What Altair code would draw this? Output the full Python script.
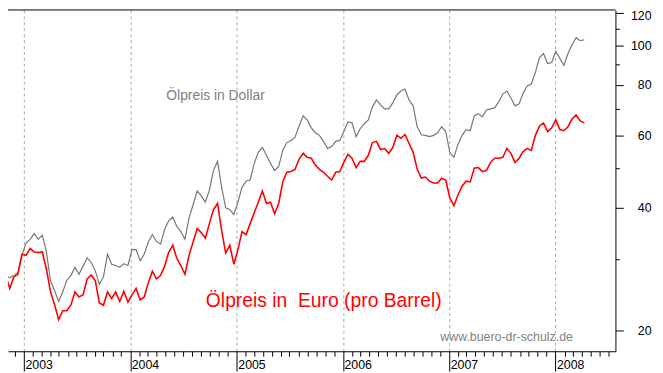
import altair as alt
import pandas as pd

# --- data (fortnightly samples) ---
n_points = 144
dates = pd.date_range("2002-10-16", periods=n_points, freq="14D").strftime("%Y-%m-%d").tolist()

dollar = [30.2, 27.1, 27.0, 27.3, 27.8, 30.6, 32.8, 33.5, 34.6, 33.5,
          34.3, 31.2, 26.5, 25.1, 23.6, 24.9, 26.6, 27.3, 28.6, 27.5,
          28.8, 30.2, 29.4, 28.0, 26.0, 27.1, 30.8, 29.1, 28.9, 28.6,
          29.2, 28.9, 31.6, 31.6, 29.7, 30.8, 33.0, 34.4, 33.1, 32.6,
          35.4, 37.2, 38.0, 36.0, 35.0, 33.5, 37.8, 40.7, 44.0, 42.8,
          41.3, 44.2, 49.4, 52.0, 44.9, 40.0, 39.6, 38.5, 41.3, 44.9,
          46.5, 46.8, 51.4, 54.7, 56.2, 53.8, 51.4, 49.4, 50.5, 55.3,
          57.8, 58.5, 59.5, 63.5, 67.2, 65.7, 62.8, 61.1, 60.2, 58.2,
          55.9, 56.5, 58.2, 58.5, 61.5, 64.9, 64.6, 59.8, 62.5, 64.2,
          65.7, 70.7, 73.5, 71.5, 69.9, 69.9, 72.3, 75.6, 77.3, 78.2,
          73.5, 71.1, 63.2, 60.4, 60.2, 59.8, 60.2, 61.1, 63.2, 61.5,
          54.7, 53.2, 57.2, 60.2, 62.2, 61.8, 67.2, 68.0, 66.8, 69.5,
          69.9, 70.3, 72.7, 76.0, 77.3, 74.3, 71.1, 71.9, 76.4, 79.5,
          80.4, 85.9, 93.4, 95.5, 90.3, 90.8, 96.6, 92.9, 89.3, 95.5,
          100.4, 104.4, 102.7, 103.2]

euro = [30.2, 27.3, 25.4, 27.1, 27.5, 30.8, 30.6, 31.8, 31.2, 31.1,
        31.2, 28.3, 24.9, 23.2, 21.3, 22.4, 22.4, 23.1, 24.9, 24.2,
        24.5, 26.8, 27.4, 26.5, 23.4, 23.1, 24.9, 24.0, 24.9, 23.6,
        25.0, 23.5, 24.5, 25.4, 23.8, 24.2, 26.2, 28.0, 26.8, 27.3,
        28.8, 31.1, 32.4, 30.1, 28.9, 27.5, 30.6, 33.0, 35.6, 34.8,
        33.7, 36.6, 39.6, 41.0, 35.2, 31.0, 32.4, 29.1, 31.6, 35.0,
        34.4, 36.6, 38.9, 41.3, 44.0, 41.0, 41.3, 38.7, 41.0, 46.3,
        48.9, 49.1, 49.7, 52.6, 54.4, 53.2, 52.9, 50.9, 49.7, 48.9,
        47.8, 46.8, 48.9, 49.1, 51.7, 54.1, 52.9, 50.2, 52.0, 52.0,
        53.8, 57.8, 58.2, 55.6, 55.9, 54.4, 56.2, 60.2, 59.2, 60.5,
        57.5, 54.7, 49.7, 47.3, 47.6, 46.5, 46.0, 46.0, 47.3, 46.8,
        42.3, 40.5, 43.0, 45.2, 46.5, 46.3, 50.0, 50.2, 49.1, 49.4,
        51.7, 52.9, 52.9, 53.2, 55.9, 54.4, 51.7, 52.9, 55.0, 55.9,
        55.3, 60.2, 63.5, 64.6, 61.5, 62.8, 65.7, 62.2, 61.8, 63.2,
        66.0, 67.5, 65.3, 64.6]

y_ticks = [20, 30, 40, 50, 60, 70, 80, 90, 100, 110, 120]
month_ticks = [(2002, 12)] + [(y, m) for y in range(2003, 2008) for m in range(1, 13)] + \
              [(2008, m) for m in range(1, 8)]

label_dollar = ["Ölpreis in Dollar"]
label_euro = ["Ölpreis in\u00a0 Euro (pro Barrel)"]
label_url = ["www.buero-dr-schulz.de"]

df_dollar = pd.DataFrame({"date": dates, "price": dollar})
df_euro = pd.DataFrame({"date": dates, "price": euro})

FONT = "Liberation Sans"
is_jan = "utcmonth(datum.value) == 0"

x_enc = alt.X(
    "date:T",
    scale=alt.Scale(type="utc", domain=[alt.DateTime(year=2002, month=11, date=7, utc=True),
                                        alt.DateTime(year=2008, month=7, date=25, utc=True)]),
    axis=alt.Axis(
        values=[alt.DateTime(year=y, month=m, date=1, utc=True) for y, m in month_ticks],
        title=None,
        grid=True,
        gridDash=[3, 3],
        gridColor="#a8a8a8",
        gridOpacity={"condition": {"test": is_jan, "value": 1}, "value": 0},
        tickSize={"condition": {"test": is_jan, "value": 20}, "value": 5},
        tickColor="black",
        domainColor="black",
        labelExpr=f"{is_jan} ? utcFormat(datum.value, '%Y') : ''",
        labelAlign="left",
        labelBaseline="top",
        labelOffset=1,
        labelPadding=-13,
        labelFont=FONT,
        labelFontSize=12.5,
        labelColor="black",
        labelOverlap=False,
        labelFlush=False,
        labelBound=False,
    ),
)

y_enc = alt.Y(
    "price:Q",
    scale=alt.Scale(type="log", domain=[17.82, 122.1]),
    axis=alt.Axis(
        orient="right",
        values=y_ticks,
        title=None,
        grid=False,
        tickSize={"condition": {"test": "datum.value % 20 == 0", "value": 8}, "value": 4},
        tickColor="black",
        domainColor="black",
        labelExpr="datum.value % 20 == 0 ? datum.value : ''",
        labelAlign="right",
        labelBaseline="middle",
        labelOffset={"condition": {"test": "datum.value == 120", "value": 2.5}, "value": 0},
        labelPadding=28,
        labelFont=FONT,
        labelFontSize=12.5,
        labelColor="black",
        labelOverlap=False,
        labelFlush=False,
        labelBound=False,
    ),
)

dollar_line = alt.Chart(df_dollar).mark_line(color="#767676", strokeWidth=1.2, clip=True).encode(x=x_enc, y=y_enc)
euro_line = alt.Chart(df_euro).mark_line(color="#ff0000", strokeWidth=1.6, clip=True).encode(x=x_enc, y=y_enc)

top_rule = alt.Chart(pd.DataFrame({"k": [0]})).mark_rule(color="black", strokeWidth=1).encode(y=alt.value(0))

t_dollar = alt.Chart(pd.DataFrame({"t": label_dollar})).mark_text(
    align="left", baseline="alphabetic", font=FONT, fontSize=14, color="#808080"
).encode(text="t:N", x=alt.value(160), y=alt.value(91.5))

t_euro = alt.Chart(pd.DataFrame({"t": label_euro})).mark_text(
    align="left", baseline="alphabetic", font=FONT, fontSize=19.5, color="#ff0000"
).encode(text="t:N", x=alt.value(200), y=alt.value(300.3))

t_url = alt.Chart(pd.DataFrame({"t": label_url})).mark_text(
    align="left", baseline="alphabetic", font=FONT, fontSize=12.5, color="#808080"
).encode(text="t:N", x=alt.value(437), y=alt.value(334.5))

chart = alt.layer(dollar_line, euro_line, top_rule, t_dollar, t_euro, t_url).properties(
    width=614,
    height=345,
    autosize=alt.AutoSizeParams(type="none"),
    padding={"left": 0, "top": 0, "right": 40, "bottom": 20},
    background="white",
).configure_view(stroke=None)

chart.save("out.html", embed_options={"renderer": "svg", "actions": False})
